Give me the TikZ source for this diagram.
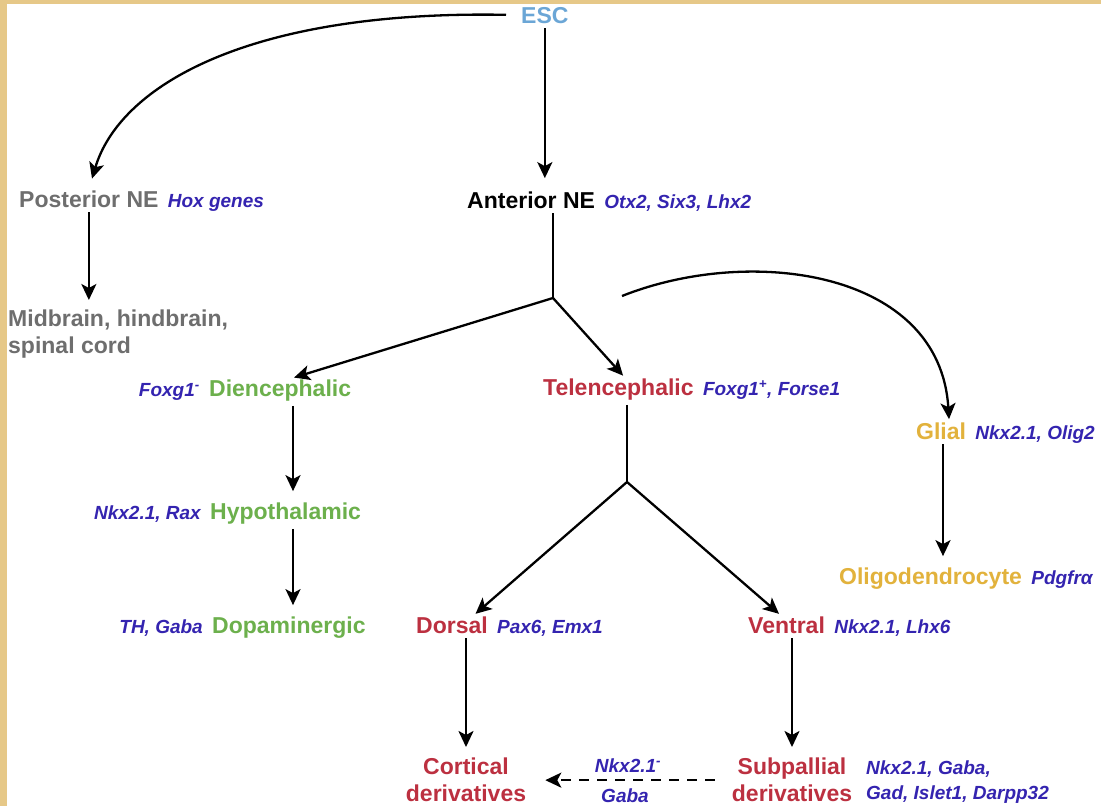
\documentclass[tikz,border=0pt]{standalone}
\usepackage{xcolor}
\usepackage{fontspec}
\setmainfont{Liberation Sans}
\usepackage{tikz}
\usetikzlibrary{arrows.meta, positioning, calc}
\definecolor{parch}{HTML}{E6C888}
\definecolor{escblue}{HTML}{6BA6D6}
\definecolor{postgray}{HTML}{6E6E6E}
\definecolor{genec}{HTML}{3424B0}
\definecolor{telred}{HTML}{BC3040}
\definecolor{diengreen}{HTML}{6CB04C}
\definecolor{glialgold}{HTML}{E2B23C}
\tikzset{
  lbl/.style={inner sep=1pt, font=\fontsize{23}{27}\selectfont\bfseries},
  gene/.style={inner sep=1pt, text=genec, font=\fontsize{19}{25}\selectfont\bfseries\itshape},
  arrow/.style={line width=2.3pt,-{Stealth[length=16pt,width=15pt,inset=4pt]}, shorten >=10pt, shorten <=4pt},
  plainline/.style={line width=2.3pt, shorten <=4pt},
  dasharrow/.style={arrow, dash pattern=on 10pt off 8pt}
}

\begin{document}
\begin{tikzpicture}[x=1pt, y=-1pt, node distance=7pt]
% background
\fill[parch] (0,0) rectangle (1101,806);
\fill[white] (7,4) rectangle (1101,806);
\useasboundingbox (0,0) rectangle (1101,806);

% ESC - top
\node[lbl, text=escblue, anchor=base west] (esc) at (520,23) {ESC};

% POSTERIOR - left column
\node[lbl, text=postgray, anchor=base west] (post) at (18,207) {Posterior NE};
\node[gene, base right=of post] (hox) {Hox genes};
\node[lbl, text=postgray, anchor=north west, inner sep=0pt, align=left] (mid) at (8,310) {Midbrain, hindbrain,\\spinal cord};

% ANTERIOR
\node[lbl, anchor=base west] (ant) at (466,208) {Anterior NE};
\node[gene, base right=of ant] (otx) {Otx2, Six3, Lhx2};
\coordinate (antsplit) at (553,298);
\coordinate (glstart) at (622,296);

% DIENCEPHALIC - green column
\node[lbl, text=diengreen, anchor=base west] (dien) at (208,396) {Diencephalic};
\node[gene, base left=of dien] (foxm) {Foxg1\textsuperscript{-}};
\node[lbl, text=diengreen, anchor=base west] (hypo) at (209,519) {Hypothalamic};
\node[gene, base left=of hypo] (rax) {Nkx2.1, Rax};
\node[lbl, text=diengreen, anchor=base west] (dopa) at (211,633) {Dopaminergic};
\node[gene, base left=of dopa] (thg) {TH, Gaba};
\coordinate (dcol) at (293,0);

% TELENCEPHALIC - red column
\node[lbl, text=telred, anchor=base west] (tel) at (542,395) {Telencephalic};
\node[gene, base right=of tel] (foxp) {Foxg1\textsuperscript{+}, Forse1};
\coordinate (telsplit) at (627,482);
\node[lbl, text=telred, anchor=base west] (dors) at (415,633) {Dorsal};
\node[gene, base right=of dors] (pax) {Pax6, Emx1};
\node[lbl, text=telred, anchor=base west] (vent) at (747,633) {Ventral};
\node[gene, base right=of vent] (lhx) {Nkx2.1, Lhx6};
\node[lbl, text=telred, anchor=north, align=center] (cort) at (466,757) {Cortical\\derivatives};
\node[lbl, text=telred, anchor=north, align=center] (subp) at (792,757) {Subpallial\\derivatives};
\node[gene, anchor=north west, align=left] (subg) at (865,760) {Nkx2.1, Gaba,\\Gad, Islet1, Darpp32};
\node[gene, anchor=base] (dnkx) at (628,772) {Nkx2.1\textsuperscript{-}};
\node[gene, anchor=base] (dgaba) at (625,802) {Gaba};

% GLIAL - gold column
\node[lbl, text=glialgold, anchor=base west] (glial) at (915,439) {Glial};
\node[gene, base right=of glial] (olig) {Nkx2.1, Olig2};
\node[lbl, text=glialgold, anchor=base west] (oligo) at (838,584) {Oligodendrocyte};
\node[gene, base right=of oligo] (pdg) {Pdgfrα};
\coordinate (gcol) at (943,0);

% connectors
\draw[arrow, shorten >=12pt] (esc.south) -- (esc.south |- ant.north);
\draw[arrow, shorten <=14pt, shorten >=11pt] (esc.west) .. controls (250,10) and (120,85) .. (post.north);
\draw[arrow] (post.south) -- (post.south |- mid.north);
\draw[plainline] (antsplit |- ant.south) -- (antsplit);
\draw[arrow, shorten <=0pt, shorten >=2pt] (antsplit) -- ([xshift=12pt]dien.north);
\draw[arrow, shorten <=0pt, shorten >=2pt] (antsplit) -- ([xshift=6pt]tel.north);
\draw[arrow, shorten <=0pt, shorten >=2pt] (glstart) .. controls (750,245) and (940,270) .. ([xshift=8pt]glial.north);
\draw[arrow] (dien.south -| dcol) -- (hypo.north -| dcol);
\draw[arrow] (hypo.south -| dcol) -- (dopa.north -| dcol);
\draw[plainline] (telsplit |- tel.south) -- (telsplit);
\draw[arrow, shorten <=0pt, shorten >=2pt] (telsplit) -- ([xshift=22pt]dors.north);
\draw[arrow, shorten <=0pt, shorten >=2pt] (telsplit) -- ([xshift=-6pt]vent.north);
\draw[arrow] (cort.north |- dors.south) -- (cort.north);
\draw[arrow] (vent.south -| subp.north) -- (subp.north);
\draw[arrow] (glial.south -| gcol) -- (oligo.north -| gcol);
\draw[dasharrow, shorten <=16pt, shorten >=18pt] (subp.west) -- (cort.east);
\end{tikzpicture}
\end{document}
